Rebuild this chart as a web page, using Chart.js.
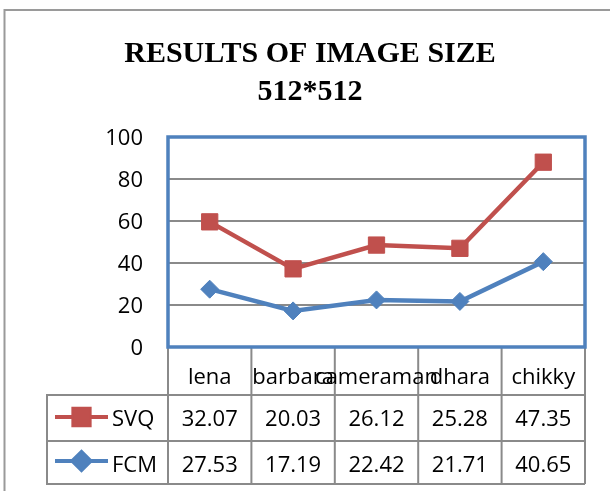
<!DOCTYPE html>
<html><head><meta charset="utf-8">
<script src="https://cdn.jsdelivr.net/npm/chart.js@4"></script>
<style>html,body{margin:0;padding:0;background:#fff;}#wrap{width:610px;height:491px;position:relative;}</style>
</head><body><div id="wrap"><canvas id="c" width="610" height="491"></canvas></div>
<script>
const categories = ['lena', 'barbara', 'cameraman', 'dhara', 'chikky'];
const svq = [32.07, 20.03, 26.12, 25.28, 47.35];
const fcm = [27.53, 17.19, 22.42, 21.71, 40.65];
const yTicks = [0, 20, 40, 60, 80, 100];
const titleLines = ['RESULTS OF IMAGE SIZE', '512*512'];
const seriesNames = ['SVQ', 'FCM'];

const RED = '#C0504D', BLUE = '#4F81BD', GRID = '#8a8a8a';
const FONT = '"Open Sans", "Noto Sans", sans-serif';

const tablePlugin = {
  id: 'dataTable',
  beforeDraw(chart) {
    const ctx = chart.ctx;
    ctx.save();
    ctx.fillStyle = '#fff';
    ctx.fillRect(0, 0, chart.width, chart.height);
    ctx.strokeStyle = '#9a9a9a';
    ctx.lineWidth = 2;
    ctx.strokeRect(4.5, 10, 700, 700);
    ctx.restore();
  },
  afterDraw(chart) {
    const ctx = chart.ctx, a = chart.chartArea, x = chart.scales.x;
    const n = categories.length;
    const half = (a.right - a.left) / n / 2;
    const r0 = a.bottom, r1 = a.bottom + 48, r2 = a.bottom + 94, r3 = a.bottom + 137;
    const headLeft = 47;
    ctx.save();
    ctx.strokeStyle = GRID;
    ctx.lineWidth = 2;
    const line = (x1, y1, x2, y2) => { ctx.beginPath(); ctx.moveTo(x1, y1); ctx.lineTo(x2, y2); ctx.stroke(); };
    for (let i = 0; i <= n; i++) {
      const b = i < n ? x.getPixelForValue(i) - half : x.getPixelForValue(n - 1) + half;
      line(b, r0, b, r3);
    }
    line(headLeft, r1 - 1, headLeft, r3 + 1);
    [r1, r2, r3].forEach(y => line(headLeft, y, a.right, y));

    // plot area border
    ctx.strokeStyle = BLUE;
    ctx.lineWidth = 3.5;
    ctx.strokeRect(a.left, a.top, a.right - a.left, a.bottom - a.top);

    ctx.fillStyle = '#000';
    ctx.font = '22px ' + FONT;
    ctx.textAlign = 'center';
    ctx.textBaseline = 'alphabetic';
    categories.forEach((c, i) => ctx.fillText(c, x.getPixelForValue(i), r0 + 37));

    const rows = [
      { name: seriesNames[0], data: svq, color: RED, style: 'rect', radius: 11.5, base: r1 + 31, mid: r1 + 22 },
      { name: seriesNames[1], data: fcm, color: BLUE, style: 'rectRot', radius: 9, base: r2 + 31, mid: r2 + 20 }
    ];
    rows.forEach(r => {
      ctx.textAlign = 'center';
      r.data.forEach((v, i) => ctx.fillText(v.toFixed(2), x.getPixelForValue(i), r.base));
      ctx.strokeStyle = r.color;
      ctx.lineWidth = 4;
      line(55, r.mid, 108, r.mid);
      ctx.fillStyle = r.color;
      Chart.helpers.drawPoint(ctx, { pointStyle: r.style, radius: r.radius, borderWidth: 1, rotation: 0 }, 81.5, r.mid);
      ctx.fill();
      ctx.fillStyle = '#000';
      ctx.textAlign = 'left';
      ctx.fillText(r.name, 112, r.base);
    });
    ctx.restore();
  }
};

new Chart(document.getElementById('c'), {
  type: 'line',
  data: {
    labels: categories,
    datasets: [
      { label: seriesNames[1], data: fcm, borderColor: BLUE, backgroundColor: BLUE, borderWidth: 4.5,
        pointStyle: 'rectRot', pointRadius: 9, pointHoverRadius: 9, pointBorderWidth: 1, fill: false, tension: 0 },
      { label: seriesNames[0], data: svq, borderColor: RED, backgroundColor: RED, borderWidth: 4.5,
        pointStyle: 'rect', pointRadius: 11.5, pointHoverRadius: 11.5, pointBorderWidth: 1, fill: false, tension: 0 }
    ]
  },
  options: {
    responsive: false,
    animation: false,
    devicePixelRatio: 1,
    layout: { padding: { left: 10, right: 0, top: 0, bottom: 144 } },
    plugins: {
      legend: { display: false },
      tooltip: { enabled: false },
      title: {
        display: true,
        text: titleLines,
        color: '#000',
        font: { family: '"Liberation Serif", "Times New Roman", serif', size: 30, weight: 'bold', lineHeight: 1.2667 },
        padding: { top: 35, bottom: 26 }
      }
    },
    scales: {
      x: { display: false, offset: true },
      y: {
        stacked: true,
        min: yTicks[0], max: yTicks[yTicks.length - 1],
        afterBuildTicks(s) { s.ticks = yTicks.map(v => ({ value: v })); },
        afterFit(s) { s.width = 158; },
        grid: { color: GRID, lineWidth: 2, drawTicks: false },
        border: { display: false },
        ticks: { color: '#000', padding: 25, labelOffset: 2, font: { family: FONT, size: 22 } }
      },
      y2: {
        position: 'right',
        display: true,
        grid: { display: false, drawTicks: false },
        border: { display: false },
        ticks: { display: false },
        afterFit(s) { s.width = 25; }
      }
    }
  },
  plugins: [tablePlugin]
});
</script>
</body></html>
